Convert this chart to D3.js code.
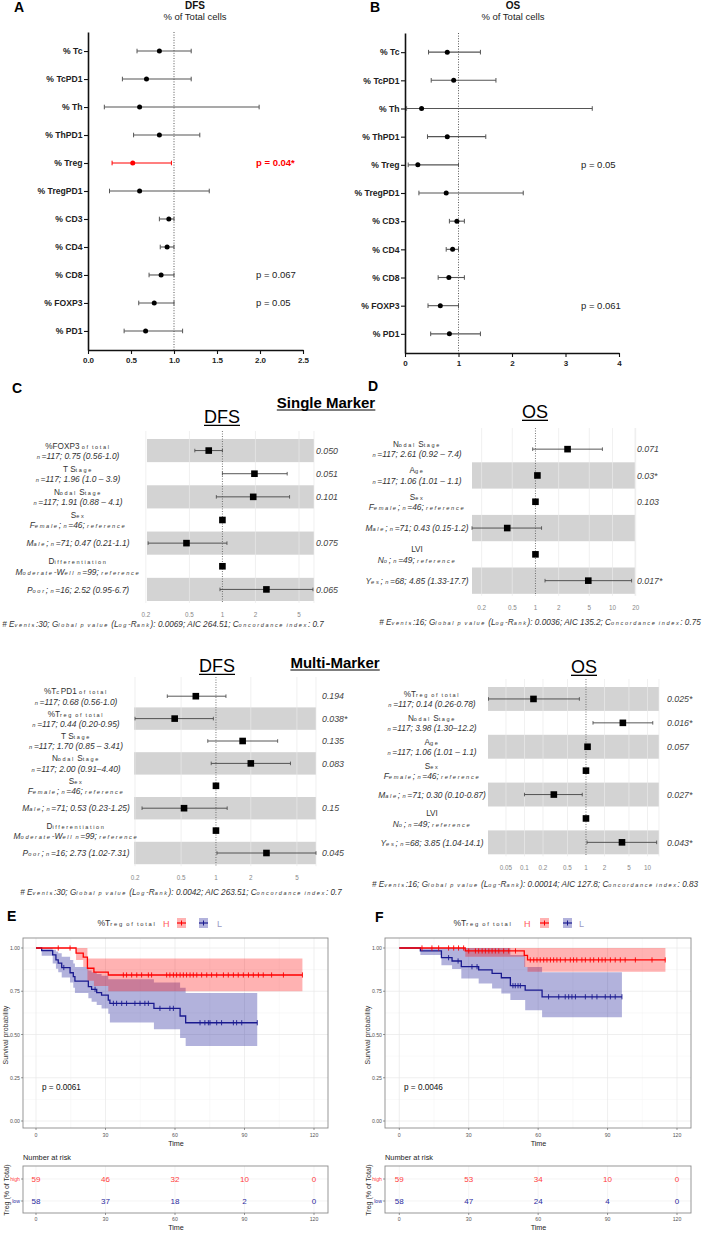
<!DOCTYPE html>
<html><head><meta charset="utf-8">
<script src="https://cdn.jsdelivr.net/npm/d3@7"></script>
<style>
body{margin:0;background:#fff;}
svg{display:block;font-family:"Liberation Sans",Arial,Helvetica,sans-serif;}
text{white-space:pre;}
</style></head><body>
<svg id="fig" width="704" height="1235"></svg>
<script>
// ---------------- DATA ----------------
// Panels A/B: hazard ratios per marker (% of total cells)
const markerLabels = ["% Tc","% TcPD1","% Th","% ThPD1","% Treg","% TregPD1","% CD3","% CD4","% CD8","% FOXP3","% PD1"];
const dfsHR   = [0.83,0.68,0.60,0.83,0.52,0.60,0.94,0.92,0.85,0.77,0.67];
const dfsLow  = [0.57,0.40,0.19,0.53,0.28,0.25,0.83,0.84,0.71,0.59,0.42];
const dfsHigh = [1.20,1.20,1.99,1.30,0.97,1.41,1.00,1.00,1.00,1.00,1.10];
const dfsPText = ["","","","","p = 0.04*","","","","p = 0.067","p = 0.05",""];
const dfsTicks = [0,0.5,1,1.5,2,2.5];
const osHR   = [0.79,0.91,0.31,0.79,0.24,0.77,0.97,0.89,0.82,0.66,0.83];
const osLow  = [0.44,0.49,0.03,0.42,0.06,0.26,0.83,0.77,0.62,0.43,0.48];
const osHigh = [1.41,1.70,3.50,1.51,1.00,2.21,1.11,1.00,1.11,1.00,1.41];
const osPText = ["","","","","p = 0.05","","","","","p = 0.061",""];
const osTicks = [0,1,2,3,4];

// Panel C (single marker, DFS)
const cSingleHead = ["%FOXP3 of total","T Stage","Nodal Stage","Sex","","Differentiation",""];
const cSingleSub  = ["n=117; 0.75 (0.56-1.0)","n=117; 1.96 (1.0 \u2013 3.9)","n=117; 1.91 (0.88 \u2013 4.1)","Female; n=46; reference","Male; n=71; 0.47 (0.21-1.1)","Moderate-Well n=99; reference","Poor; n=16; 2.52 (0.95-6.7)"];
const cSingleHR   = [0.75,1.96,1.91,1,0.47,1,2.52];
const cSingleLo   = [0.56,1.0,0.88,null,0.21,null,0.95];
const cSingleHi   = [1.0,3.9,4.1,null,1.1,null,6.7];
const cSingleP    = ["0.050","0.051","0.101","","0.075","","0.065"];
const cSingleTicks = [0.2,0.5,1,2,5];
const cSingleFoot = "# Events:30; Global p value (Log-Rank): 0.0069; AIC 264.51; Concordance index: 0.7";

// Panel D (single marker, OS)
const dSingleHead = ["Nodal Stage","Age","Sex","","LVI",""];
const dSingleSub  = ["n=117; 2.61 (0.92 \u2013 7.4)","n=117; 1.06 (1.01 \u2013 1.1)","Female; n=46; reference","Male; n=71; 0.43 (0.15-1.2)","No; n=49; reference","Yes; n=68; 4.85 (1.33-17.7)"];
const dSingleHR   = [2.61,1.06,1,0.43,1,4.85];
const dSingleLo   = [0.92,1.01,null,0.15,null,1.33];
const dSingleHi   = [7.4,1.1,null,1.2,null,17.7];
const dSingleP    = ["0.071","0.03*","0.103","","","0.017*"];
const dSingleTicks = [0.2,0.5,1,2,5,10,20];
const dSingleFoot = "# Events:16; Global p value (Log-Rank): 0.0036; AIC 135.2; Concordance index: 0.75";

// Panel C (multi marker, DFS)
const cMultiHead = ["%TcPD1 of total","%Treg of total","T Stage","Nodal Stage","Sex","","Differentiation",""];
const cMultiSub  = ["n=117; 0.68 (0.56-1.0)","n=117; 0.44 (0.20-0.95)","n=117; 1.70 (0.85 \u2013 3.41)","n=117; 2.00 (0.91\u20134.40)","Female; n=46; reference","Male; n=71; 0.53 (0.23-1.25)","Moderate-Well n=99; reference","Poor; n=16; 2.73 (1.02-7.31)"];
const cMultiHR   = [0.67,0.44,1.70,2.00,1,0.53,1,2.73];
const cMultiLo   = [0.38,0.20,0.85,0.91,null,0.23,null,1.02];
const cMultiHi   = [1.22,0.95,3.41,4.40,null,1.25,null,7.31];
const cMultiP    = ["0.194","0.038*","0.135","0.083","","0.15","","0.045"];
const cMultiTicks = [0.2,0.5,1,2,5];
const cMultiFoot = "# Events:30; Global p value (Log-Rank): 0.0042; AIC 263.51; Concordance index: 0.7";

// Panel D (multi marker, OS)
const dMultiHead = ["%Treg of total","Nodal Stage","Age","Sex","","LVI",""];
const dMultiSub  = ["n=117; 0.14 (0.26-0.78)","n=117; 3.98 (1.30\u201312.2)","n=117; 1.06 (1.01 \u2013 1.1)","Female; n=46; reference","Male; n=71; 0.30 (0.10-0.87)","No; n=49; reference","Yes; n=68; 3.85 (1.04-14.1)"];
const dMultiHR   = [0.14,3.98,1.06,1,0.30,1,3.85];
const dMultiLo   = [0.026,1.30,1.01,null,0.10,null,1.04];
const dMultiHi   = [0.78,12.2,1.1,null,0.87,null,14.1];
const dMultiP    = ["0.025*","0.016*","0.057","","0.027*","","0.043*"];
const dMultiTicks = [0.05,0.1,0.2,0.5,1,2,5,10];
const dMultiFoot = "# Events:16; Global p value (Log-Rank): 0.00014; AIC 127.8; Concordance index: 0.83";

// Panels E/F: Kaplan-Meier (%Treg of total, H vs L)
const kmTicksX = [0,30,60,90,120];
const kmTicksY = [0,0.25,0.5,0.75,1];
const eHighT  = [0,17.3,20.4,22.2,25.0,31.2];
const eHighS  = [1,0.970,0.947,0.883,0.860,0.844];
const eHighLo = [1,0.93,0.89,0.81,0.78,0.75];
const eHighUp = [1,1,1,0.94,0.94,0.94];
const eHighEnd = 115;
const eHighCens = [9.6,14.7,37.7,39.1,41.3,43.5,45.6,48.5,49.9,56.4,57.8,59.3,60.7,62.2,63.6,65.0,66.5,67.9,69.4,71.5,73.7,75.8,78.0,80.9,83.0,85.2,87.3,89.5,91.7,93.8,96.0,98.1,101.7,106.8,115];
const eLowT  = [0,2.45,7.2,8.6,9.6,11.1,14.7,16.1,16.8,22.6,24.0,26.2,28.3,31.2,31.9,50.9,62.2,64.6];
const eLowS  = [1,0.985,0.960,0.931,0.912,0.887,0.857,0.834,0.809,0.777,0.761,0.742,0.728,0.699,0.680,0.651,0.607,0.568];
const eLowLo = [1,0.955,0.91,0.88,0.86,0.83,0.80,0.77,0.74,0.71,0.69,0.67,0.65,0.62,0.57,0.53,0.48,0.433];
const eLowUp = [1,1,0.99,0.98,0.97,0.95,0.93,0.91,0.89,0.87,0.86,0.85,0.84,0.82,0.82,0.80,0.77,0.74];
const eLowEnd = 95.5;
const eLowCens = [12.0,25.5,33.4,34.8,37.0,39.1,42.7,44.9,47.0,48.5,53.5,57.8,59.3,70.8,72.9,74.4,75.1,78.0,80.1,85.2,86.6,88.8,95.5];
const eRiskHigh = [59,46,32,10,0];
const eRiskLow  = [58,37,18,2,0];
const ePText = "p = 0.0061";

const fHighT  = [0,28.5,54.0,55.4];
const fHighS  = [1,0.983,0.957,0.931];
const fHighLo = [1,0.95,0.89,0.863];
const fHighUp = [1,1,1,1];
const fHighEnd = 115;
const fHighCens = [9.8,14.1,17.0,21.3,23.5,25.6,27.8,30.0,32.9,34.3,35.8,37.2,38.7,40.1,41.5,43.0,45.1,47.3,50.2,56.6,58.1,59.5,60.9,62.4,63.8,65.3,66.7,68.1,69.6,71.7,73.9,75.3,76.7,78.9,80.4,82.5,84.0,86.1,87.6,89.0,91.2,93.3,95.5,97.6,102.0,109.2,114.9];
const fLowT  = [0,9.1,18.2,22.8,26.8,34.3,40.1,44.1,48.0,54.4,61.7];
const fLowS  = [1,0.983,0.944,0.925,0.892,0.873,0.853,0.828,0.782,0.757,0.718];
const fLowLo = [1,0.96,0.90,0.878,0.823,0.795,0.766,0.737,0.699,0.64,0.60];
const fLowUp = [1,1,1,1,1,1,1,1,0.96,0.89,0.86];
const fLowEnd = 96.2;
const fLowCens = [21.3,25.4,31.4,33.6,49.1,50.1,51.3,52.3,64.5,68.9,71.7,73.2,74.6,76.1,80.4,83.3,85.4,89.0,91.2,93.3,96.2];
const fRiskHigh = [59,53,34,10,0];
const fRiskLow  = [58,47,24,4,0];
const fPText = "p = 0.0046";

// ---------------- DRAWING ----------------
const svg = d3.select("#fig");
const RED = "#ff0000", BLUE = "#1a1a8f";

function rich(sel, str, size) {
  const runs = str.match(/[a-z]+|[^a-z]+/g) || [];
  runs.forEach(r => {
    const low = r[0] >= "a" && r[0] <= "z";
    sel.append("tspan").text(r)
      .attr("font-size", low ? size * 0.68 : size)
      .attr("letter-spacing", low ? size * 0.2 : 0);
  });
  return sel;
}

function letter(x, y, t) {
  svg.append("text").attr("x", x).attr("y", y).attr("font-size", 14)
    .attr("font-weight", "bold").attr("fill", "#000").text(t);
}

function underlined(x, y, t, size, weight) {
  const tx = svg.append("text").attr("x", x).attr("y", y).attr("text-anchor", "middle")
    .attr("font-size", size).attr("font-weight", weight).attr("fill", "#000").text(t);
  const bb = tx.node().getBBox();
  svg.append("line").attr("x1", bb.x).attr("x2", bb.x + bb.width)
    .attr("y1", y + size * 0.13).attr("y2", y + size * 0.13)
    .attr("stroke", "#000").attr("stroke-width", size * 0.075);
}

// ---- Panels A/B ----
function dotForest(cfg) {
  const g = svg.append("g");
  const x = d3.scaleLinear().domain(cfg.domain).range([cfg.x0, cfg.x1]);
  const y = d3.scalePoint().domain(markerLabels).range([cfg.yTop, cfg.yBottom]).padding(0.68);
  g.append("line").attr("x1", x(1)).attr("x2", x(1)).attr("y1", cfg.yTop).attr("y2", cfg.yBottom)
    .attr("stroke", "#444").attr("stroke-width", 0.9).attr("stroke-dasharray", "1,1.6");
  const ya = g.append("g").attr("transform", `translate(${cfg.x0},0)`)
    .call(d3.axisLeft(y).tickSize(4).tickSizeOuter(0).tickPadding(1.5));
  ya.selectAll("text").attr("font-size", 8.6).attr("font-weight", "bold").attr("fill", "#222")
    .attr("font-family", "'Liberation Sans',Arial,sans-serif");
  const xa = g.append("g").attr("transform", `translate(0,${cfg.yBottom})`)
    .call(d3.axisBottom(x).tickValues(cfg.ticks).tickSize(4).tickSizeOuter(0).tickFormat(cfg.fmt));
  xa.selectAll("text").attr("font-size", 8).attr("font-weight", "bold").attr("fill", "#222")
    .attr("font-family", "'Liberation Sans',Arial,sans-serif");
  [ya, xa].forEach(a => { a.select(".domain").attr("stroke-width", 1.6).attr("stroke", "#111");
    a.selectAll(".tick line").attr("stroke-width", 1.1).attr("stroke", "#111"); });
  markerLabels.forEach((lab, i) => {
    const sig = cfg.p[i].endsWith("*");
    const col = sig ? RED : "#555";
    const yy = y(lab);
    g.append("line").attr("x1", x(cfg.lo[i])).attr("x2", x(cfg.hi[i])).attr("y1", yy).attr("y2", yy)
      .attr("stroke", col).attr("stroke-width", 1.1);
    [cfg.lo[i], cfg.hi[i]].forEach(v => g.append("line").attr("x1", x(v)).attr("x2", x(v))
      .attr("y1", yy - 2.3).attr("y2", yy + 2.3).attr("stroke", col).attr("stroke-width", 1));
    g.append("circle").attr("cx", x(cfg.hr[i])).attr("cy", yy).attr("r", 2.5)
      .attr("fill", sig ? RED : "#000");
    if (cfg.p[i]) g.append("text").attr("x", cfg.pX).attr("y", yy + 3.4).attr("font-size", 9.5)
      .attr("font-weight", sig ? "bold" : "normal").attr("fill", sig ? RED : "#222").text(cfg.p[i]);
  });
  g.append("text").attr("x", cfg.titleX).attr("y", 9).attr("text-anchor", "middle")
    .attr("font-size", 10).attr("font-weight", "bold").attr("fill", "#111").text(cfg.title);
  g.append("text").attr("x", cfg.titleX).attr("y", 19.5).attr("text-anchor", "middle")
    .attr("font-size", 9.5).attr("fill", "#222").text("% of Total cells");
}

dotForest({domain: [0, 2.5], x0: 88, x1: 303, yTop: 32, yBottom: 350, ticks: dfsTicks, fmt: d3.format(".1f"),
  hr: dfsHR, lo: dfsLow, hi: dfsHigh, p: dfsPText, pX: 256, title: "DFS", titleX: 195});
dotForest({domain: [0, 4], x0: 405, x1: 619, yTop: 33, yBottom: 353, ticks: osTicks, fmt: d3.format("d"),
  hr: osHR, lo: osLow, hi: osHigh, p: osPText, pX: 581, title: "OS", titleX: 513});
letter(14, 12, "A");
letter(370, 12, "B");

// ---- Panels C/D forest (ggforest style) ----
function ggForest(cfg) {
  const g = svg.append("g");
  const n = cfg.head.length;
  const x = d3.scaleLog().domain(cfg.domain).range([cfg.x0, cfg.x1]);
  const rowY = d3.scaleLinear().domain([0, n]).range([cfg.rowTop, cfg.rowTop + n * cfg.rowH]);
  const cy = i => rowY(i + 0.5);
  d3.range(n).filter(i => (n - 1 - i) % 2 === 0).forEach(i =>
    g.append("rect").attr("x", cfg.x0).attr("y", rowY(i)).attr("width", cfg.x1 - cfg.x0)
      .attr("height", cfg.rowH).attr("fill", "#d3d3d3"));
  const gy0 = cfg.rowTop - 8, gy1 = rowY(n) + 2;
  const gridVals = cfg.ticks.filter(t => t !== 1).concat([cfg.domain[1]]);
  gridVals.forEach(t => g.append("line").attr("x1", x(t)).attr("x2", x(t)).attr("y1", gy0).attr("y2", gy1)
    .attr("stroke", "#e9e9e9").attr("stroke-width", 0.7));
  g.append("line").attr("x1", x(1)).attr("x2", x(1)).attr("y1", gy0).attr("y2", gy1)
    .attr("stroke", "#555").attr("stroke-width", 0.8).attr("stroke-dasharray", "1,1.5");
  for (let i = 0; i < n; i++) {
    const yy = cy(i);
    if (cfg.lo[i] != null) {
      g.append("line").attr("x1", x(cfg.lo[i])).attr("x2", x(cfg.hi[i])).attr("y1", yy).attr("y2", yy)
        .attr("stroke", "#444").attr("stroke-width", 0.9);
      [cfg.lo[i], cfg.hi[i]].forEach(v => g.append("line").attr("x1", x(v)).attr("x2", x(v))
        .attr("y1", yy - 1.8).attr("y2", yy + 1.8).attr("stroke", "#444").attr("stroke-width", 0.8));
    }
    const s = 6.6;
    g.append("rect").attr("x", x(cfg.hr[i]) - s / 2).attr("y", yy - s / 2).attr("width", s).attr("height", s)
      .attr("fill", "#000");
    if (cfg.p[i]) g.append("text").attr("x", cfg.pX).attr("y", yy + 3.2).attr("font-size", 8.8)
      .attr("font-style", "italic").attr("fill", "#444").text(cfg.p[i]);
    if (cfg.head[i]) {
      rich(g.append("text").attr("x", cfg.labelX).attr("y", yy - 2).attr("text-anchor", "middle")
        .attr("fill", "#333"), cfg.head[i], 8.2);
      rich(g.append("text").attr("x", cfg.labelX).attr("y", yy + 8.3).attr("text-anchor", "middle")
        .attr("font-style", "italic").attr("fill", "#333"), cfg.sub[i], 8.4);
    } else {
      rich(g.append("text").attr("x", cfg.labelX).attr("y", yy + 3.2).attr("text-anchor", "middle")
        .attr("font-style", "italic").attr("fill", "#333"), cfg.sub[i], 8.4);
    }
  }
  cfg.ticks.forEach(t => g.append("text").attr("x", x(t)).attr("y", rowY(n) + 16)
    .attr("text-anchor", "middle").attr("font-size", 6.3).attr("fill", "#888").text(d3.format("~g")(t)));
  rich(g.append("text").attr("x", cfg.footX).attr("y", cfg.footY).attr("text-anchor", "middle")
    .attr("font-style", "italic").attr("fill", "#333"), cfg.foot, 8.2);
  underlined(cfg.titleX, cfg.titleY, cfg.title, 18, "normal");
}

ggForest({head: cSingleHead, sub: cSingleSub, hr: cSingleHR, lo: cSingleLo, hi: cSingleHi, p: cSingleP,
  ticks: cSingleTicks, foot: cSingleFoot, domain: [0.205, 6.85], x0: 147, x1: 314, rowTop: 439, rowH: 23.14,
  pX: 316, labelX: 78, footX: 163, footY: 627, title: "DFS", titleX: 222, titleY: 423});
ggForest({head: dSingleHead, sub: dSingleSub, hr: dSingleHR, lo: dSingleLo, hi: dSingleHi, p: dSingleP,
  ticks: dSingleTicks, foot: dSingleFoot, domain: [0.15, 19.6], x0: 472, x1: 635, rowTop: 436, rowH: 26.3,
  pX: 637, labelX: 417, footX: 540, footY: 625, title: "OS", titleX: 535, titleY: 418});
ggForest({head: cMultiHead, sub: cMultiSub, hr: cMultiHR, lo: cMultiLo, hi: cMultiHi, p: cMultiP,
  ticks: cMultiTicks, foot: cMultiFoot, domain: [0.196, 7.31], x0: 134, x1: 316, rowTop: 685, rowH: 22.4,
  pX: 322, labelX: 76, footX: 181, footY: 895, title: "DFS", titleX: 217, titleY: 672});
ggForest({head: dMultiHead, sub: dMultiSub, hr: dMultiHR, lo: dMultiLo, hi: dMultiHi, p: dMultiP,
  ticks: dMultiTicks, foot: dMultiFoot, domain: [0.0255, 15.4], x0: 488, x1: 659, rowTop: 687, rowH: 23.9,
  pX: 667, labelX: 432, footX: 535, footY: 887, title: "OS", titleX: 584, titleY: 673});
underlined(326, 408, "Single Marker", 15, "bold");
underlined(335, 668, "Multi-Marker", 15, "bold");
letter(12, 393, "C");
letter(368, 391, "D");

// ---- Panels E/F Kaplan-Meier ----
function km(cfg) {
  const g = svg.append("g");
  const x = d3.scaleLinear().domain([0, 120]).range([cfg.tx0, cfg.tx1]);
  const y = d3.scaleLinear().domain([0, 1]).range([1121, 948]);
  const px0 = cfg.px0, px1 = cfg.px1, py0 = 938, py1 = 1128;
  // grid
  [15, 45, 75, 105].forEach(t => g.append("line").attr("x1", x(t)).attr("x2", x(t)).attr("y1", py0).attr("y2", py1)
    .attr("stroke", "#f3f3f3").attr("stroke-width", 0.5));
  [0.125, 0.375, 0.625, 0.875].forEach(t => g.append("line").attr("x1", px0).attr("x2", px1).attr("y1", y(t)).attr("y2", y(t))
    .attr("stroke", "#f3f3f3").attr("stroke-width", 0.5));
  kmTicksX.forEach(t => g.append("line").attr("x1", x(t)).attr("x2", x(t)).attr("y1", py0).attr("y2", py1)
    .attr("stroke", "#e8e8e8").attr("stroke-width", 0.7));
  kmTicksY.forEach(t => g.append("line").attr("x1", px0).attr("x2", px1).attr("y1", y(t)).attr("y2", y(t))
    .attr("stroke", "#e8e8e8").attr("stroke-width", 0.7));
  // bands + curves
  const series = [
    {T: cfg.lowT, S: cfg.lowS, Lo: cfg.lowLo, Up: cfg.lowUp, end: cfg.lowEnd, cens: cfg.lowCens, col: BLUE, fill: "#00008b"},
    {T: cfg.highT, S: cfg.highS, Lo: cfg.highLo, Up: cfg.highUp, end: cfg.highEnd, cens: cfg.highCens, col: RED, fill: "#ff0000"}
  ];
  series.forEach(s => {
    const pts = s.T.map((t, i) => ({t, s: s.S[i], lo: s.Lo[i], up: s.Up[i]}));
    const last = pts[pts.length - 1];
    pts.push({t: s.end, s: last.s, lo: last.lo, up: last.up});
    g.append("path").datum(pts).attr("fill", s.fill).attr("fill-opacity", 0.3)
      .attr("d", d3.area().curve(d3.curveStepAfter).x(d => x(d.t)).y0(d => y(d.lo)).y1(d => y(d.up)));
  });
  series.forEach(s => {
    const pts = s.T.map((t, i) => ({t, s: s.S[i]}));
    pts.push({t: s.end, s: s.S[s.S.length - 1]});
    g.append("path").datum(pts).attr("fill", "none").attr("stroke", s.col).attr("stroke-width", 1.3)
      .attr("d", d3.line().curve(d3.curveStepAfter).x(d => x(d.t)).y(d => y(d.s)));
    s.cens.forEach(t => {
      let v = s.S[0];
      s.T.forEach((tt, i) => { if (tt <= t) v = s.S[i]; });
      g.append("line").attr("x1", x(t)).attr("x2", x(t)).attr("y1", y(v) - 2.6).attr("y2", y(v) + 2.6)
        .attr("stroke", s.col).attr("stroke-width", 0.9);
    });
  });
  g.append("rect").attr("x", px0).attr("y", py0).attr("width", px1 - px0).attr("height", py1 - py0)
    .attr("fill", "none").attr("stroke", "#8c8c8c").attr("stroke-width", 0.9);
  // axes ticks/labels
  kmTicksY.forEach(t => {
    g.append("line").attr("x1", px0 - 2).attr("x2", px0).attr("y1", y(t)).attr("y2", y(t)).attr("stroke", "#555").attr("stroke-width", 0.6);
    g.append("text").attr("x", px0 - 3).attr("y", y(t) + 2).attr("text-anchor", "end").attr("font-size", 5.2)
      .attr("fill", "#555").text(d3.format(".2f")(t));
  });
  kmTicksX.forEach(t => {
    g.append("line").attr("x1", x(t)).attr("x2", x(t)).attr("y1", py1).attr("y2", py1 + 2).attr("stroke", "#555").attr("stroke-width", 0.6);
    g.append("text").attr("x", x(t)).attr("y", 1137).attr("text-anchor", "middle").attr("font-size", 5.2)
      .attr("fill", "#555").text(t);
  });
  g.append("text").attr("x", (px0 + px1) / 2 + 0.5).attr("y", 1145.5).attr("text-anchor", "middle")
    .attr("font-size", 7.2).attr("fill", "#222").text("Time");
  g.append("text").attr("transform", `translate(${cfg.ylabX},1035) rotate(-90)`).attr("text-anchor", "middle")
    .attr("font-size", 7).attr("fill", "#333").text("Survival probability");
  g.append("text").attr("x", px0 + 19).attr("y", 1090).attr("font-size", 8.2).attr("fill", "#111").text(cfg.pText);
  // legend
  rich(g.append("text").attr("x", cfg.legX).attr("y", 926).attr("text-anchor", "middle").attr("fill", "#333"), "%Treg of total", 8.6);
  g.append("text").attr("x", cfg.hX).attr("y", 926.5).attr("font-size", 9).attr("fill", "#ff5a5a").text("H");
  g.append("text").attr("x", cfg.lX).attr("y", 926.5).attr("font-size", 9).attr("fill", "#9a9ac4").text("L");
  [{kx: cfg.hKey, col: RED, fill: "#ff0000"}, {kx: cfg.lKey, col: BLUE, fill: "#00008b"}].forEach(k => {
    g.append("rect").attr("x", k.kx).attr("y", 918).attr("width", 9).attr("height", 10).attr("fill", k.fill).attr("fill-opacity", 0.3);
    g.append("line").attr("x1", k.kx).attr("x2", k.kx + 9).attr("y1", 923).attr("y2", 923).attr("stroke", k.col).attr("stroke-width", 1.2);
    g.append("line").attr("x1", k.kx + 4.5).attr("x2", k.kx + 4.5).attr("y1", 920.5).attr("y2", 925.5).attr("stroke", k.col).attr("stroke-width", 1);
  });
  // risk table
  const ry0 = 1166, ry1 = 1213, rHigh = 1179, rLow = 1201;
  g.append("text").attr("x", px0).attr("y", 1160).attr("font-size", 7.4).attr("fill", "#222").text("Number at risk");
  kmTicksX.forEach(t => g.append("line").attr("x1", x(t)).attr("x2", x(t)).attr("y1", ry0).attr("y2", ry1)
    .attr("stroke", "#ededed").attr("stroke-width", 0.6));
  [rHigh, rLow].forEach(yy => g.append("line").attr("x1", px0).attr("x2", px1).attr("y1", yy).attr("y2", yy)
    .attr("stroke", "#ededed").attr("stroke-width", 0.6));
  g.append("rect").attr("x", px0).attr("y", ry0).attr("width", px1 - px0).attr("height", ry1 - ry0)
    .attr("fill", "none").attr("stroke", "#8c8c8c").attr("stroke-width", 0.9);
  kmTicksX.forEach((t, i) => {
    g.append("text").attr("x", x(t)).attr("y", rHigh + 3).attr("text-anchor", "middle").attr("font-size", 8)
      .attr("fill", "#ff3b3b").text(cfg.riskHigh[i]);
    g.append("text").attr("x", x(t)).attr("y", rLow + 3).attr("text-anchor", "middle").attr("font-size", 8)
      .attr("fill", "#2a2aa0").text(cfg.riskLow[i]);
    g.append("line").attr("x1", x(t)).attr("x2", x(t)).attr("y1", ry1).attr("y2", ry1 + 2).attr("stroke", "#555").attr("stroke-width", 0.6);
    g.append("text").attr("x", x(t)).attr("y", 1221).attr("text-anchor", "middle").attr("font-size", 5.2)
      .attr("fill", "#555").text(t);
  });
  [[rHigh, "high", "#ff3b3b"], [rLow, "low", "#2a2aa0"]].forEach(r => {
    g.append("line").attr("x1", px0 - 2).attr("x2", px0).attr("y1", r[0]).attr("y2", r[0]).attr("stroke", "#555").attr("stroke-width", 0.6);
    g.append("text").attr("x", px0 - 3).attr("y", r[0] + 1.8).attr("text-anchor", "end").attr("font-size", 5.2)
      .attr("fill", r[2]).text(r[1]);
  });
  g.append("text").attr("x", (px0 + px1) / 2 + 0.5).attr("y", 1230).attr("text-anchor", "middle")
    .attr("font-size", 7.2).attr("fill", "#222").text("Time");
  g.append("text").attr("transform", `translate(${cfg.ylabX + 1},1190) rotate(-90)`).attr("text-anchor", "middle")
    .attr("font-size", 7).attr("fill", "#333").text("Treg (% of Total)");
}

km({tx0: 36, tx1: 314, px0: 23, px1: 328, ylabX: 8,
  highT: eHighT, highS: eHighS, highLo: eHighLo, highUp: eHighUp, highEnd: eHighEnd, highCens: eHighCens,
  lowT: eLowT, lowS: eLowS, lowLo: eLowLo, lowUp: eLowUp, lowEnd: eLowEnd, lowCens: eLowCens,
  riskHigh: eRiskHigh, riskLow: eRiskLow, pText: ePText,
  legX: 127, hX: 163, hKey: 177, lKey: 199, lX: 217});
km({tx0: 399.3, tx1: 677, px0: 385, px1: 691, ylabX: 370,
  highT: fHighT, highS: fHighS, highLo: fHighLo, highUp: fHighUp, highEnd: fHighEnd, highCens: fHighCens,
  lowT: fLowT, lowS: fLowS, lowLo: fLowLo, lowUp: fLowUp, lowEnd: fLowEnd, lowCens: fLowCens,
  riskHigh: fRiskHigh, riskLow: fRiskLow, pText: fPText,
  legX: 483, hX: 524, hKey: 540, lKey: 563, lX: 579});
letter(7, 921, "E");
letter(375, 922, "F");
</script></body></html>
